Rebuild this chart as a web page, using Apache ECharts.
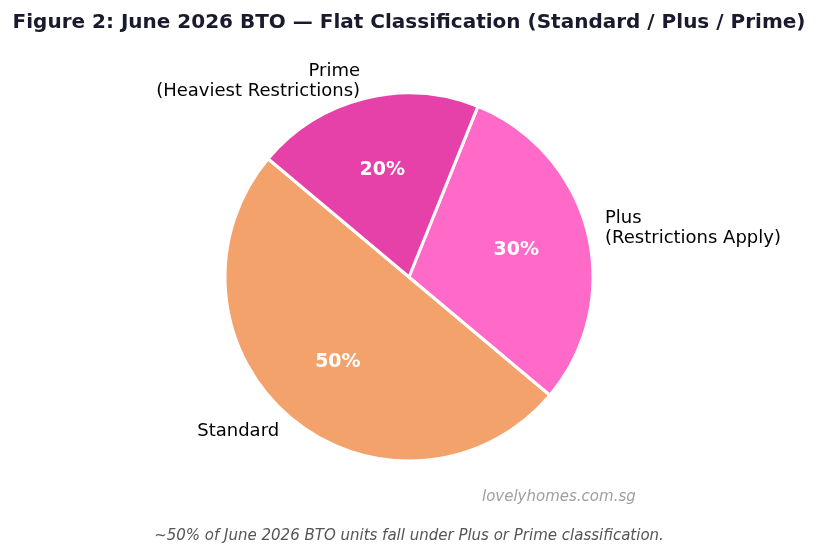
<!DOCTYPE html>
<html>
<head>
    <meta charset="utf-8">
    <title>June 2026 BTO flat classification</title>
    <script src="https://cdn.jsdelivr.net/npm/echarts@6/dist/echarts.min.js"></script>
</head>
<style>
    *{
        padding: 0;
        margin: 0;
    }
    #main {
        width: 818px;
        height: 555px;
        position: absolute
    }
</style>
<body>
    <div id="main"></div>
    <script type="text/javascript">
    // data
    var categories = ['Standard', 'Plus\n(Restrictions Apply)', 'Prime\n(Heaviest Restrictions)'];
    var shares = [50, 30, 20];
    var colors = ['#F4A26B', '#FF69C8', '#E541A8'];

    var font = '"DejaVu Sans", sans-serif';
    var R = 184;

    var data = categories.map(function (name, i) {
        return { name: name, value: shares[i], itemStyle: { color: colors[i] } };
    });
    // transparent copy only used to place the percentage text nearer the centre
    var pctData = categories.map(function (name, i) {
        return { name: name, value: shares[i] };
    });

    var myChart = echarts.init(document.getElementById('main'));
    var option = {
        backgroundColor: '#ffffff',
        animation: false,
        title: [{
            text: 'Figure 2: June 2026 BTO \u2014 Flat Classification (Standard / Plus / Prime)',
            left: 'center',
            top: 8,
            textStyle: { fontFamily: font, fontSize: 20, fontWeight: 'bold', color: '#1a1a2e' }
        }, {
            text: 'lovelyhomes.com.sg',
            left: 477,
            top: 485,
            textStyle: { fontFamily: font, fontSize: 15, fontStyle: 'italic', fontWeight: 'normal', color: '#a0a0a0' }
        }, {
            text: '~50% of June 2026 BTO units fall under Plus or Prime classification.',
            left: 'center',
            top: 524,
            textStyle: { fontFamily: font, fontSize: 15, fontStyle: 'italic', fontWeight: 'normal', color: '#555555' }
        }],
        series: [{
            type: 'pie',
            center: [409, 277],
            radius: [0, R],
            startAngle: 140,
            clockwise: false,
            silent: true,
            itemStyle: { borderColor: '#ffffff', borderWidth: 3 },
            label: {
                show: true,
                position: 'outside',
                fontFamily: font,
                fontSize: 18,
                color: '#000000',
                lineHeight: 20,
                distanceToLabelLine: 0,
                formatter: '{b}'
            },
            labelLine: { show: false, length: 18, length2: 0 },
            data: data
        }, {
            type: 'pie',
            center: [409, 277],
            radius: [0, 2 * 0.585 * R],
            startAngle: 140,
            clockwise: false,
            silent: true,
            z: 3,
            itemStyle: { color: 'rgba(0,0,0,0)', borderWidth: 0 },
            label: {
                show: true,
                position: 'inside',
                fontFamily: font,
                fontSize: 19,
                fontWeight: 'bold',
                color: '#ffffff',
                formatter: '{c}%'
            },
            labelLine: { show: false },
            data: pctData
        }]
    };
    myChart.setOption(option);
    </script>
</body>
</html>
